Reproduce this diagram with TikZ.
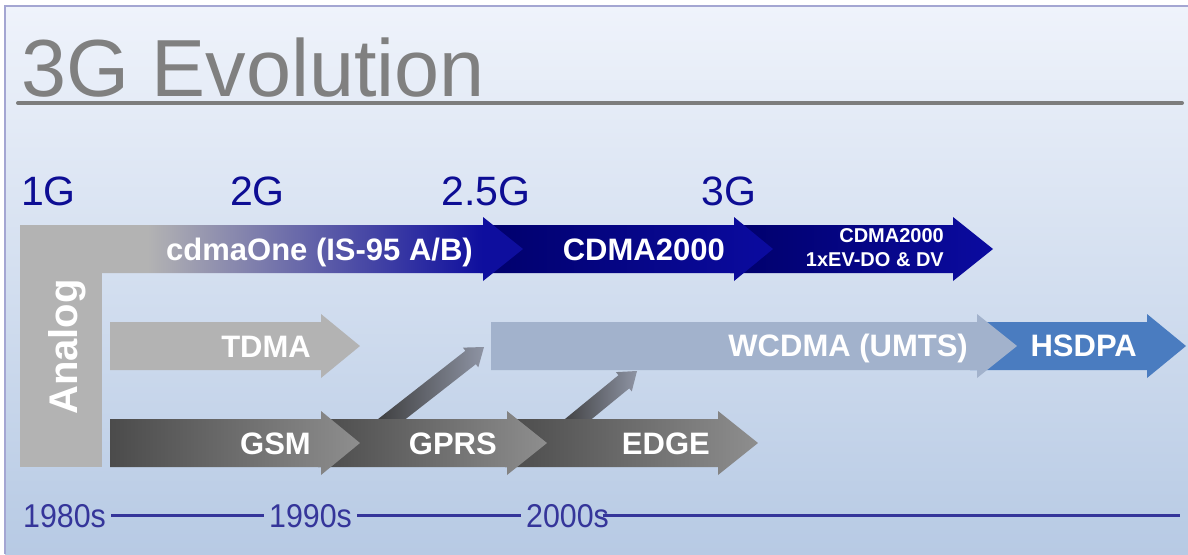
\documentclass[tikz,border=0pt]{standalone}
\usepackage{fontspec}
\setmainfont{Liberation Sans}
\newfontfamily\tlfont[FakeStretch=0.92]{Liberation Sans}
\usetikzlibrary{calc}
\definecolor{bgtop}{HTML}{EFF3FB}
\definecolor{bgbot}{HTML}{B7CAE4}
\definecolor{frame}{HTML}{A4A6D2}
\definecolor{titlegray}{HTML}{808080}
\definecolor{genblue}{HTML}{0D0D94}
\definecolor{tlblue}{HTML}{35359A}
\definecolor{anagray}{HTML}{B3B3B3}
\definecolor{cblue}{HTML}{0E0E9E}
\definecolor{navyL}{HTML}{00006B}
\definecolor{navyR}{HTML}{0B0BA0}
\definecolor{wcdma}{HTML}{A2B2CC}
\definecolor{hsdpa}{HTML}{4A7CC0}
\definecolor{gsmL}{HTML}{4B4B4B}
\definecolor{gsmR}{HTML}{8E8E8E}
\definecolor{diagL}{HTML}{3A3A3A}
\definecolor{diagR}{HTML}{8E94A4}
\pgfdeclarehorizontalshading{cdmaone}{100bp}{color(0bp)=(anagray); color(37.7bp)=(anagray); color(71bp)=(cblue); color(100bp)=(cblue)}
\tikzset{
  lbl/.style={text=white, font=\bfseries\fontsize{31}{31}\selectfont, inner sep=0pt, anchor=base east},
  gen/.style={text=genblue, font=\fontsize{41}{41}\selectfont, inner sep=0pt, anchor=base west},
  tl/.style={text=tlblue, font=\tlfont\fontsize{33}{33}\selectfont, inner xsep=5pt, inner ysep=0pt, anchor=base west},
  tlline/.style={draw=tlblue, line width=3pt},
  navyarr/.style={left color=navyL, right color=navyR},
  grayarr/.style={left color=gsmL, right color=gsmR},
  diagarrow/.style={left color=diagL, right color=diagR},
}
\newcommand\harr[6]{%
  \path[#5] (#1,#4-24) -- (#2,#4-24) -- (#2,#4-32) -- (#3,#4) coordinate (#6) -- (#2,#4+32) -- (#2,#4+24) -- (#1,#4+24) -- cycle;}
\newcommand\diagarr[3]{%
  \coordinate (#3h) at ($(#2)!17pt!(#1)$);
  \path[diagarrow] ($(#1)!8.5pt!90:(#2)$) -- ($(#3h)!8.5pt!90:(#2)$) -- ($(#3h)!12.5pt!90:(#2)$) -- (#2)
    -- ($(#3h)!12.5pt!-90:(#2)$) -- ($(#3h)!8.5pt!-90:(#2)$) -- ($(#1)!8.5pt!-90:(#2)$) -- cycle;}
\begin{document}
\begin{tikzpicture}[x=1pt,y=-1pt]
\useasboundingbox (0,0) rectangle (1188,554);
\fill[white] (0,0) rectangle (1188,554);
\shade[top color=bgtop, bottom color=bgbot] (5,6) rectangle (1188,554);
\draw[frame, line width=1.5pt] (5,554) -- (5,6) -- (1188,6);
% title
\node[text=titlegray, font=\fontsize{81}{81}\selectfont, inner sep=0pt, anchor=base west] (title) at (21,96) {3G Evolution};
\coordinate (ul1) at (18,103);
\coordinate (ul2) at (1182,103);
\draw[titlegray!98!black, line width=4pt, line cap=round] (ul1) -- (ul2);
% generation labels
\node[gen] (g1) at (21,205) {1G};
\node[gen] (g2) at (230,205) {2G};
\node[gen] (g25) at (441,205) {2.5G};
\node[gen] (g3) at (701,205) {3G};
% top row
\harr{730}{953}{993}{249}{navyarr}{a3}
\harr{480}{734}{773}{249}{navyarr}{a2}
\fill[anagray] (20,240) rectangle (102,467);
\harr{20}{483}{523}{249}{shading=cdmaone}{a1}
% middle row
\harr{970}{1147}{1186}{346}{fill=hsdpa}{b3}
% diagonals
\coordinate (d1s) at (376.2,431.3);
\coordinate (d1t) at (484,347);
\coordinate (d2s) at (561.9,432.5);
\coordinate (d2t) at (637,371);
\diagarr{d1s}{d1t}{d1}
\diagarr{d2s}{d2t}{d2}
\harr{491}{977}{1017}{346}{fill=wcdma}{b2}
\harr{110}{321}{360}{346}{fill=anagray}{b1}
% bottom row
\harr{505}{718}{758}{443}{grayarr}{c3}
\harr{318}{507}{547}{443}{grayarr}{c2}
\harr{110}{321}{360}{443}{grayarr}{c1}
% labels
\node[rotate=90, anchor=base west, text=white, font=\bfseries\fontsize{40}{40}\selectfont, inner sep=0pt] (analog) at (77,415) {Analog};
\node[lbl] (l1) at (473,260) {cdmaOne (IS-95 A/B)};
\node[lbl] (l2) at (725,260) {CDMA2000};
\node[lbl, anchor=east, align=right, font=\bfseries\fontsize{20}{24}\selectfont] (l3) at (944,248) {CDMA2000\\1xEV-DO \& DV};
\node[lbl] (m1) at (311,357) {TDMA};
\node[lbl] (m2) at (968,356) {WCDMA (UMTS)};
\node[lbl] (m3) at (1137,356) {HSDPA};
\node[lbl] (n1) at (311,454) {GSM};
\node[lbl] (n2) at (497,454) {GPRS};
\node[lbl] (n3) at (710,454) {EDGE};
% timeline
\node[tl] (t80) at (18,527) {1980s};
\node[tl] (t90) at (264,527) {1990s};
\node[tl] (t00) at (521,527) {2000s};
\coordinate (tend) at (1180,516);
\draw[tlline] (t80.east) -- (t90.west);
\draw[tlline] (t90.east) -- (t00.west);
\draw[tlline] ($(t00.east)+(-11,0)$) -- (t00.east -| tend);
\end{tikzpicture}
\end{document}
